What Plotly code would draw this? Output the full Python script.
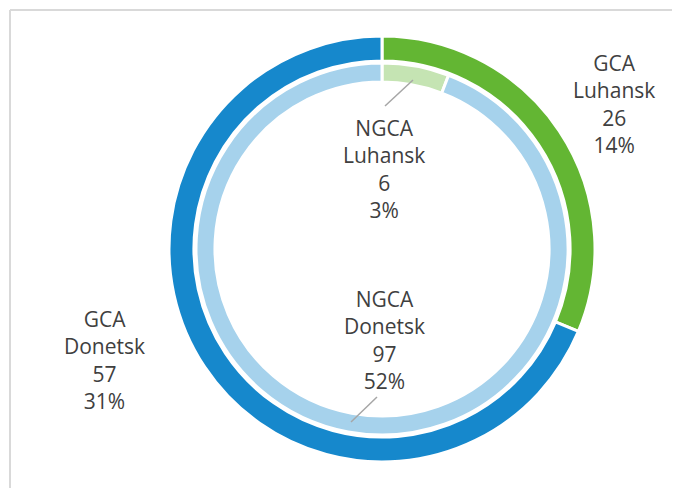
import plotly.graph_objects as go

# data
outer_labels = ["GCA Luhansk", "GCA Donetsk"]
outer_values = [26, 57]
inner_labels = ["NGCA Luhansk", "NGCA Donetsk"]
inner_values = [6, 97]

outer_colors = ["#63B633", "#1688CC"]
inner_colors = ["#C5E4B3", "#A6D2EC"]

# the page body has an 8px margin, so the figure is 8px smaller than the window
OFF = 8
W, H = 680 - OFF, 488 - OFF
total = sum(outer_values) + sum(inner_values)


def px_x(x):
    return (x - OFF) / W


def px_y(y):
    return 1 - (y - OFF) / H


def label_text(name, value):
    region, oblast = name.split(" ")
    pct = round(value / total * 100)
    return f"{region}<br>{oblast}<br>{value}<br>{pct}%"


fig = go.Figure()

# outer ring
fig.add_trace(go.Pie(
    labels=outer_labels,
    values=outer_values,
    sort=False,
    direction="clockwise",
    rotation=0,
    hole=0.883,
    textinfo="none",
    hoverinfo="label+value",
    marker=dict(colors=outer_colors, line=dict(color="white", width=3)),
    domain=dict(x=[px_x(169), px_x(595)], y=[px_y(462), px_y(36)]),
    showlegend=False,
))

# inner ring
fig.add_trace(go.Pie(
    labels=inner_labels,
    values=inner_values,
    sort=False,
    direction="clockwise",
    rotation=0,
    hole=0.898,
    textinfo="none",
    hoverinfo="label+value",
    marker=dict(colors=inner_colors, line=dict(color="white", width=3)),
    domain=dict(x=[px_x(196), px_x(568)], y=[px_y(435), px_y(63)]),
    showlegend=False,
))

# labels
label_pos = {
    "GCA Luhansk": (614, 104),
    "NGCA Luhansk": (384, 169),
    "GCA Donetsk": (105, 360),
    "NGCA Donetsk": (384, 340),
}
values = dict(zip(outer_labels + inner_labels, outer_values + inner_values))

for name, (x, y) in label_pos.items():
    fig.add_annotation(
        x=px_x(x), y=px_y(y), xref="paper", yref="paper",
        xanchor="center", yanchor="middle",
        text=label_text(name, values[name]),
        showarrow=False, align="center",
        font=dict(family="Open Sans", size=21, color="#404040"),
    )

shapes = [
    # leader lines
    dict(type="line", xref="paper", yref="paper",
         x0=px_x(385), y0=px_y(106), x1=px_x(413), y1=px_y(80),
         line=dict(color="#A6A6A6", width=1.5)),
    dict(type="line", xref="paper", yref="paper",
         x0=px_x(351), y0=px_y(422), x1=px_x(377), y1=px_y(397),
         line=dict(color="#A6A6A6", width=1.5)),
    # chart frame
    dict(type="line", xref="paper", yref="paper",
         x0=px_x(10), y0=px_y(10), x1=1, y1=px_y(10),
         line=dict(color="#D9D9D9", width=2)),
    dict(type="line", xref="paper", yref="paper",
         x0=px_x(10), y0=px_y(10), x1=px_x(10), y1=0,
         line=dict(color="#D9D9D9", width=2)),
]

fig.update_layout(
    width=W, height=H,
    margin=dict(l=0, r=0, t=0, b=0),
    paper_bgcolor="white",
    plot_bgcolor="white",
    shapes=shapes,
)

fig.write_html("out.html")
